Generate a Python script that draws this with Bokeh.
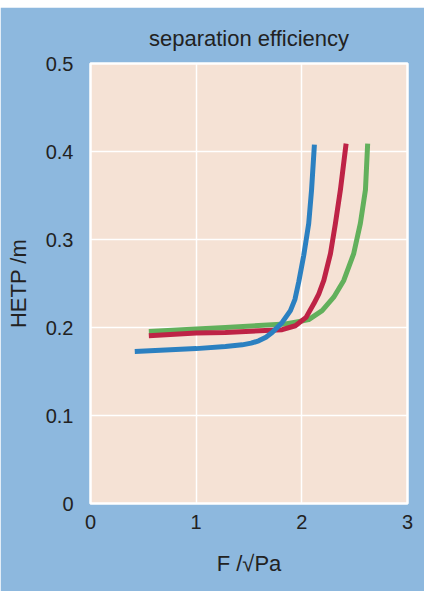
from bokeh.plotting import figure
from bokeh.models import Range1d, FixedTicker, Spacer
from bokeh.layouts import column
from bokeh.embed import file_html
from bokeh.resources import INLINE

# data
blue_x = [0.419, 1.00, 1.277, 1.435, 1.520, 1.592, 1.660, 1.719, 1.814, 1.892, 1.935, 1.971, 2.018, 2.065, 2.092, 2.119]
blue_y = [0.1727, 0.1760, 0.1784, 0.1803, 0.1822, 0.1849, 0.1890, 0.1944, 0.2058, 0.2192, 0.2320, 0.2520, 0.2820, 0.3180, 0.3563, 0.4078]

red_x = [0.552, 1.00, 1.277, 1.814, 1.939, 2.040, 2.113, 2.160, 2.208, 2.271, 2.318, 2.365, 2.419]
red_y = [0.1906, 0.1937, 0.1944, 0.1975, 0.2020, 0.2115, 0.2269, 0.2380, 0.2535, 0.2840, 0.3183, 0.3563, 0.4089]

green_x = [0.552, 1.00, 1.277, 1.845, 1.939, 2.065, 2.192, 2.302, 2.397, 2.491, 2.554, 2.602, 2.623]
green_y = [0.1955, 0.1983, 0.2001, 0.2040, 0.2060, 0.2090, 0.2192, 0.2344, 0.2535, 0.2840, 0.3183, 0.3563, 0.4089]

x_ticks = [0, 1, 2, 3]
y_ticks = [0, 0.1, 0.2, 0.3, 0.4, 0.5]

BG = "#8db8de"
FONT = "Liberation Sans"
TXT = "#222222"

p = figure(width=424, height=584, output_backend="svg", toolbar_location=None,
           x_range=Range1d(0, 3), y_range=Range1d(0, 0.5),
           title="separation efficiency",
           min_border_left=90, min_border_right=17, min_border_top=56, min_border_bottom=88)
p.background_fill_color = "#f5e2d5"
p.border_fill_color = BG
p.outline_line_color = "white"
p.outline_line_width = 2.5

p.title.align = "center"
p.title.vertical_align = "top"
p.title.text_font = FONT
p.title.text_font_size = "22px"
p.title.text_font_style = "normal"
p.title.text_color = TXT
p.title.offset = 0
p.title.standoff = 22

for ax in (p.xaxis[0], p.yaxis[0]):
    ax.axis_line_color = None
    ax.major_tick_line_color = None
    ax.minor_tick_line_color = None
    ax.major_tick_in = 0
    ax.major_tick_out = 0
    ax.minor_tick_out = 0
    ax.major_label_text_font = FONT
    ax.major_label_text_font_size = "20px"
    ax.major_label_text_color = TXT
    ax.axis_label_text_font = FONT
    ax.axis_label_text_font_size = "22px"
    ax.axis_label_text_font_style = "normal"
    ax.axis_label_text_color = TXT

p.xaxis.ticker = FixedTicker(ticks=x_ticks)
p.yaxis.ticker = FixedTicker(ticks=y_ticks)
p.xaxis.major_label_standoff = 11
p.yaxis.major_label_standoff = 17
p.xaxis.axis_label = "F /√Pa"
p.yaxis.axis_label = "HETP /m"
p.xaxis.axis_label_standoff = 19
p.yaxis.axis_label_standoff = 12

p.grid.grid_line_color = "white"
p.grid.grid_line_width = 1.5
p.xgrid.ticker = FixedTicker(ticks=x_ticks)
p.ygrid.ticker = FixedTicker(ticks=y_ticks)

p.line(green_x, green_y, line_color="#62b05c", line_width=5, line_join="round")
p.line(red_x, red_y, line_color="#be2346", line_width=5, line_join="round")
p.line(blue_x, blue_y, line_color="#2b80c1", line_width=5, line_join="round")

top_pad = Spacer(width=431, height=7, sizing_mode="fixed")
layout = column(top_pad, p)
open("out.html", "w").write(file_html(layout, INLINE))
